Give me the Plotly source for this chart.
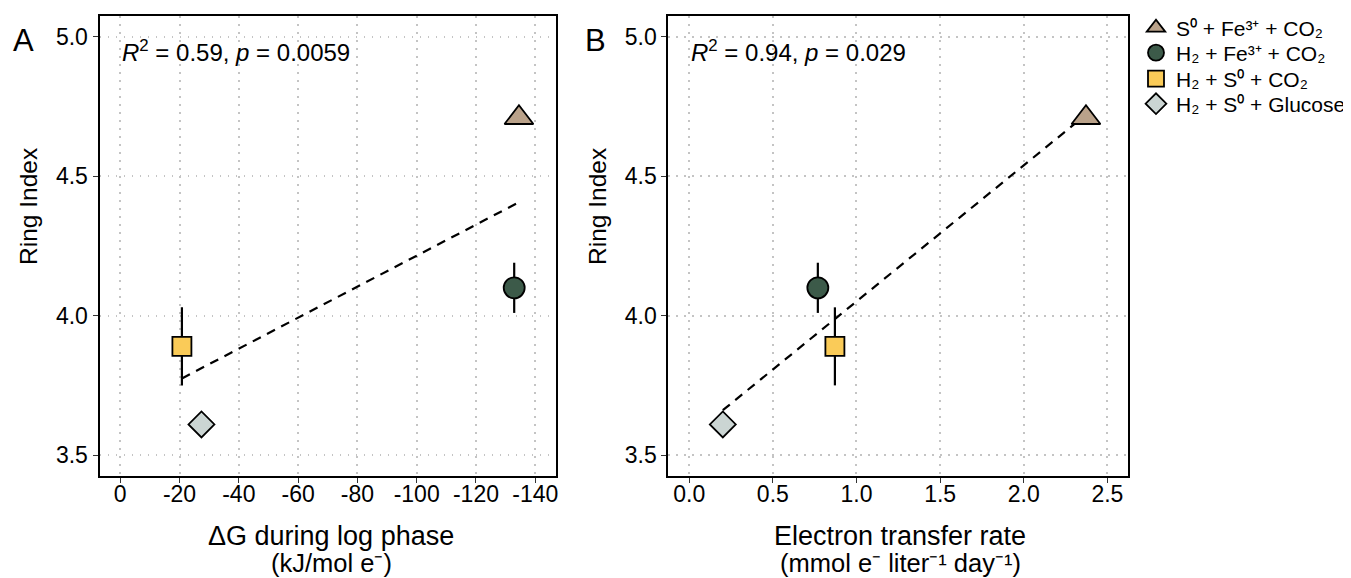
import plotly.graph_objects as go

# ---------------- data ----------------
conditions = [
    "S⁰ + Fe³⁺ + CO₂",
    "H₂ + Fe³⁺ + CO₂",
    "H₂ + S⁰ + CO₂",
    "H₂ + S⁰ + Glucose",
]
ring_index = [4.71, 4.10, 3.89, 3.61]
ring_index_err = [0.0, 0.09, 0.14, 0.0]
delta_g = [-134.5, -132.9, -20.8, -27.4]          # kJ/mol e-
transfer_rate = [2.372, 0.769, 0.871, 0.201]      # mmol e- /L/day

trend_a_x = [-20.8, -134.5]
trend_a_y = [3.775, 4.407]
trend_b_x = [0.201, 2.372]
trend_b_y = [3.661, 4.721]

stats_a = "<i>R</i><sup>2</sup> = 0.59, <i>p</i> = 0.0059"
stats_b = "<i>R</i><sup>2</sup> = 0.94, <i>p</i> = 0.029"

xa_ticks = [0, -20, -40, -60, -80, -100, -120, -140]
xa_labels = ["0", "-20", "-40", "-60", "-80", "-100", "-120", "-140"]
xb_ticks = [0.0, 0.5, 1.0, 1.5, 2.0, 2.5]
y_ticks = [3.5, 4.0, 4.5, 5.0]

xa_title = ["ΔG during log phase", "(kJ/mol e⁻)"]
xb_title = ["Electron transfer rate", "(mmol e⁻ liter⁻¹ day⁻¹)"]
y_title = "Ring Index"

# ---------------- styles / layout geometry ----------------
symbols = ["triangle-up", "circle", "square", "diamond"]
sizes = [25, 21, 19, 20]
colors = ["#BAA28A", "#3C5A49", "#FACB58", "#CBD5D3"]
legend_rows = [28, 53, 79, 104]     # legend row centres (px)
FONT = "Liberation Sans, Arial, Helvetica, sans-serif"

OFF = 8                      # page body margin
W, H = 1351 - OFF, 578 - OFF
TOP, BOT = 16 - OFF, 476 - OFF


def px(x):
    return (x - OFF) / W


def py(y):
    return (BOT - (y - OFF)) / (BOT - TOP)


fig = go.Figure()

dash_line = dict(color="black", width=2.2, dash="9px,7px")
fig.add_trace(go.Scatter(x=trend_a_x, y=trend_a_y, mode="lines", line=dash_line,
                         showlegend=False, hoverinfo="skip", xaxis="x", yaxis="y"))
fig.add_trace(go.Scatter(x=trend_b_x, y=trend_b_y, mode="lines", line=dash_line,
                         showlegend=False, hoverinfo="skip", xaxis="x2", yaxis="y2"))

legend_names = ["legend", "legend2", "legend3", "legend4"]
for i in range(len(conditions)):
    marker = dict(symbol=symbols[i], size=sizes[i], color=colors[i],
                  line=dict(color="black", width=1.8))
    err = dict(type="data", array=[ring_index_err[i]], color="black",
               thickness=2.2, width=0, visible=ring_index_err[i] > 0)
    fig.add_trace(go.Scatter(x=[delta_g[i]], y=[ring_index[i]], mode="markers",
                             marker=marker, error_y=err, name=conditions[i],
                             showlegend=False, xaxis="x", yaxis="y"))
    fig.add_trace(go.Scatter(x=[transfer_rate[i]], y=[ring_index[i]], mode="markers",
                             marker=marker, error_y=err, name=conditions[i],
                             showlegend=False, xaxis="x2", yaxis="y2"))
    fig.add_trace(go.Scatter(x=[None], y=[None], mode="markers",
                             marker=marker, name=conditions[i],
                             showlegend=True, legend=legend_names[i],
                             xaxis="x2", yaxis="y2"))

ax_common = dict(showline=True, mirror=True, linecolor="black", linewidth=2,
                 ticks="outside", ticklen=5, tickwidth=1.3, tickcolor="#333333",
                 showgrid=True, gridcolor="#c4c4c4", griddash="1.6px,6.4px",
                 gridwidth=1.6, zeroline=False,
                 tickfont=dict(size=23, color="black", family=FONT),
                 automargin=False)

legend_style = dict(x=px(1136), xanchor="left", yanchor="middle",
                    font=dict(size=21, family=FONT), bgcolor="rgba(0,0,0,0)",
                    itemsizing="trace")

fig.update_layout(
    width=W, height=H,
    margin=dict(l=0, r=0, t=TOP, b=H - BOT, autoexpand=False),
    paper_bgcolor="white", plot_bgcolor="white",
    font=dict(family=FONT, color="black"),
    xaxis=dict(domain=[px(99.5), px(556)], range=[7, -147],
               tickvals=xa_ticks, ticktext=xa_labels, ticklabelstandoff=-9,
               anchor="y", **ax_common),
    yaxis=dict(domain=[0, 1], range=[3.425, 5.075], tickvals=y_ticks,
               tickformat=".1f", anchor="x", **ax_common),
    xaxis2=dict(domain=[px(668.3), px(1128.3)], range=[-0.125, 2.625],
                tickvals=xb_ticks, tickformat=".1f", ticklabelstandoff=-9,
                anchor="y2", **ax_common),
    yaxis2=dict(domain=[0, 1], range=[3.425, 5.075], tickvals=y_ticks,
                tickformat=".1f", anchor="x2", **ax_common),
    legend=dict(y=py(legend_rows[0]), **legend_style),
    legend2=dict(y=py(legend_rows[1]), **legend_style),
    legend3=dict(y=py(legend_rows[2]), **legend_style),
    legend4=dict(y=py(legend_rows[3]), **legend_style),
    showlegend=True,
)

ann = dict(showarrow=False, xref="paper", yref="paper")
# statistics
fig.add_annotation(text=stats_a, x=0, y=4.95, xref="x", yref="y",
                   xanchor="left", yanchor="middle", showarrow=False,
                   font=dict(size=24))
fig.add_annotation(text=stats_b, x=0, y=4.95, xref="x2", yref="y2",
                   xanchor="left", yanchor="middle", showarrow=False,
                   font=dict(size=24))
# panel labels
fig.add_annotation(text="A", x=px(23), y=py(40), xanchor="center", yanchor="middle",
                   font=dict(size=31), **ann)
fig.add_annotation(text="B", x=px(595), y=py(40), xanchor="center", yanchor="middle",
                   font=dict(size=31), **ann)
# axis titles
for cx, lines in ((331, xa_title), (900, xb_title)):
    fig.add_annotation(text=lines[0], x=px(cx), y=py(536), xanchor="center",
                       yanchor="middle", font=dict(size=27), **ann)
    fig.add_annotation(text=lines[1], x=px(cx), y=py(563), xanchor="center",
                       yanchor="middle", font=dict(size=25.5), **ann)
for cx in (28, 597):
    fig.add_annotation(text=y_title, x=px(cx), y=py(207), xanchor="center",
                       yanchor="middle", textangle=-90, font=dict(size=24.5), **ann)

fig.write_html("out.html")
